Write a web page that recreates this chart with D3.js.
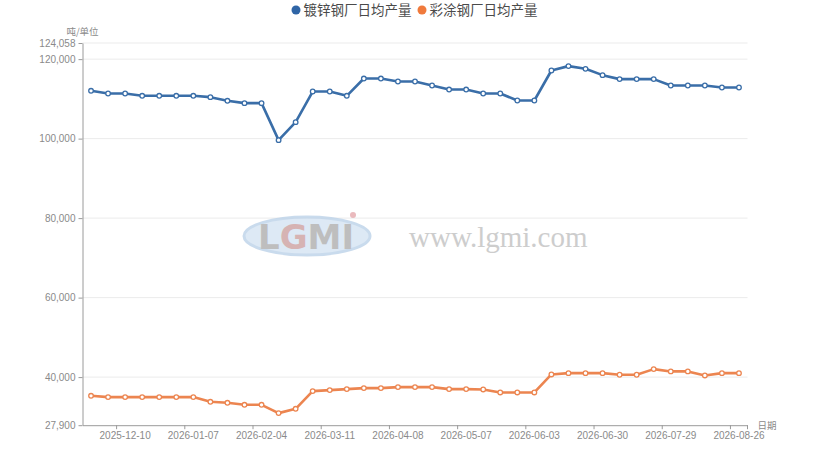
<!DOCTYPE html>
<html>
<head>
<meta charset="utf-8">
<script src="https://cdn.jsdelivr.net/npm/d3@7"></script>
<style>
    body { margin: 0; background: #fff; }
    svg { display: block; font-family: "Noto Sans CJK SC", "Noto Sans", sans-serif; }
    .tick-label { fill: #8a8a8a; font-size: 10px; }
    .axis-name { fill: #8a8a8a; font-size: 9.5px; }
    .legend-text { fill: #4a4a4a; font-size: 13.5px; }
</style>
</head>
<body>
<div id="chart"></div>
<script>
// Week labels (category axis)
const DATES = [
    "2025-11-26", "2025-12-03", "2025-12-10", "2025-12-17", "2025-12-24", "2025-12-31",
    "2026-01-07", "2026-01-14", "2026-01-21", "2026-01-28", "2026-02-04", "2026-02-11",
    "2026-02-25", "2026-03-04", "2026-03-11", "2026-03-18", "2026-03-25", "2026-04-01",
    "2026-04-08", "2026-04-15", "2026-04-22", "2026-04-29", "2026-05-07", "2026-05-13",
    "2026-05-20", "2026-05-27", "2026-06-03", "2026-06-10", "2026-06-17", "2026-06-24",
    "2026-06-30", "2026-07-08", "2026-07-15", "2026-07-22", "2026-07-29", "2026-08-05",
    "2026-08-12", "2026-08-19", "2026-08-26"
];

// 镀锌钢厂日均产量
const GALVANIZED = [
    112030, 111350, 111350, 110770, 110770, 110770, 110770, 110430, 109510, 108930,
    108930, 99620, 104150, 111850, 111850, 110770, 115120, 115120, 114370, 114370,
    113360, 112350, 112350, 111350, 111350, 109590, 109590, 117140, 118240, 117560,
    115970, 114970, 114970, 114970, 113360, 113360, 113360, 112860, 112860
];

// 彩涂钢厂日均产量
const COATED = [
    35300, 34970, 34970, 34970, 34970, 34970, 34970, 33790, 33540, 33030,
    33030, 30940, 32030, 36480, 36730, 36980, 37230, 37230, 37480, 37480,
    37480, 36980, 36980, 36900, 36140, 36140, 36140, 40670, 41000, 41000,
    41000, 40590, 40590, 42010, 41430, 41430, 40420, 41000, 41000
];

const SERIES_NAMES = ["镀锌钢厂日均产量", "彩涂钢厂日均产量"];
const Y_TICKS = [27900, 40000, 60000, 80000, 100000, 120000, 124058];
const X_LABEL_INDEX = [2, 6, 10, 14, 18, 22, 26, 30, 34, 38];

function ProductionChart(width, height) {
    const WIDTH = width;
    const HEIGHT = height;
    const MARGINS = { top: 43, right: 83.5, bottom: 46.8, left: 82.5 };
    const COLORS = ["#3a6ea8", "#ec8550"];
    const LEGEND_DOT = ["#2f65a6", "#f07a3c"];

    const xScale = d3.scaleBand()
        .domain(DATES)
        .range([MARGINS.left, WIDTH - MARGINS.right])
        .padding(0);
    const xMid = d => xScale(d) + xScale.bandwidth() / 2;

    const yScale = d3.scaleLinear()
        .domain([Y_TICKS[0], Y_TICKS[Y_TICKS.length - 1]])
        .range([HEIGHT - MARGINS.bottom, MARGINS.top]);

    this.createChart = function() {
        var svg = d3.create("svg")
            .attr("width", WIDTH)
            .attr("height", HEIGHT)
            .attr("viewBox", [0, 0, WIDTH, HEIGHT]);

        // Horizontal grid lines
        svg.append("g")
            .selectAll("line")
            .data(Y_TICKS.slice(1))
            .join("line")
            .attr("x1", MARGINS.left)
            .attr("x2", WIDTH - MARGINS.right)
            .attr("y1", d => yScale(d))
            .attr("y2", d => yScale(d))
            .style("stroke", "#ebebeb")
            .style("stroke-width", 1);

        // Watermark
        var wm = svg.append("g").attr("opacity", 0.75);
        wm.append("ellipse")
            .attr("cx", 307).attr("cy", 236)
            .attr("rx", 63).attr("ry", 19)
            .style("fill", "#d2e2f2")
            .style("stroke", "#b8cfe7")
            .style("stroke-width", 3);
        var logo = wm.append("text")
            .attr("x", 306).attr("y", 249)
            .attr("text-anchor", "middle")
            .style("font-family", "'DejaVu Sans', sans-serif")
            .style("font-weight", "bold")
            .style("font-size", "34px")
            .style("fill", "#a9a9a9");
        logo.append("tspan").text("L");
        logo.append("tspan").text("G").style("fill", "#c99a9a");
        logo.append("tspan").text("MI");
        wm.append("circle")
            .attr("cx", 353).attr("cy", 215).attr("r", 3)
            .style("fill", "#e3a3a8");
        wm.append("text")
            .attr("x", 409).attr("y", 247)
            .text("www.lgmi.com")
            .style("font-family", "'Liberation Serif', serif")
            .style("font-size", "29px")
            .style("fill", "#bdbdbd");

        // y-axis left
        var yAxis = (g) => g
            .attr("transform", `translate(${MARGINS.left},0)`)
            .call(d3.axisLeft(yScale)
                .tickValues(Y_TICKS)
                .tickFormat(d3.format(","))
                .tickSize(4)
                .tickSizeOuter(0)
                .tickPadding(3));
        svg.append("g").call(yAxis)
            .call(g => g.selectAll("path, line").style("stroke", "#9a9a9a"))
            .call(g => g.selectAll("text").attr("class", "tick-label").attr("font-family", null).attr("font-size", null));

        // x-axis bottom: labels at category centres, ticks at band edges
        var xAxis = (g) => g
            .attr("transform", `translate(0,${HEIGHT - MARGINS.bottom})`)
            .call(d3.axisBottom(xScale)
                .tickValues(X_LABEL_INDEX.map(i => DATES[i]))
                .tickSize(0)
                .tickSizeOuter(0)
                .tickPadding(7));
        svg.append("g").call(xAxis)
            .call(g => g.select(".domain").style("stroke", "#9a9a9a"))
            .call(g => g.selectAll("text").attr("class", "tick-label").attr("font-family", null).attr("font-size", null));

        svg.append("g")
            .selectAll("line")
            .data(X_LABEL_INDEX.map(i => DATES[i]).concat(["end"]))
            .join("line")
            .attr("x1", d => d === "end" ? WIDTH - MARGINS.right : xScale(d))
            .attr("x2", d => d === "end" ? WIDTH - MARGINS.right : xScale(d))
            .attr("y1", HEIGHT - MARGINS.bottom)
            .attr("y2", HEIGHT - MARGINS.bottom + 4)
            .style("stroke", "#9a9a9a");

        // Axis names
        svg.append("text")
            .attr("class", "axis-name")
            .text("吨/单位")
            .attr("x", MARGINS.left)
            .attr("y", 35)
            .attr("text-anchor", "middle");
        svg.append("text")
            .attr("class", "axis-name")
            .text("日期")
            .attr("x", WIDTH - MARGINS.right + 10)
            .attr("y", HEIGHT - MARGINS.bottom + 3.5);

        // Legend
        var legendX = [296, 422];
        SERIES_NAMES.forEach(function(name, i) {
            svg.append("circle")
                .attr("cx", legendX[i]).attr("cy", 10).attr("r", 4.5)
                .style("fill", LEGEND_DOT[i]);
            svg.append("text")
                .attr("class", "legend-text")
                .attr("x", legendX[i] + 7.5)
                .attr("y", 15)
                .text(name);
        });

        return svg;
    };

    this.drawSeries = function(svg, values, index) {
        const pts = DATES.map((d, i) => ({ date: d, value: values[i] }));
        const line = d3.line()
            .x(d => xMid(d.date))
            .y(d => yScale(d.value));

        svg.append("path")
            .datum(pts)
            .attr("d", line)
            .style("fill", "none")
            .style("stroke", COLORS[index])
            .style("stroke-width", 2.6)
            .style("stroke-linejoin", "round");

        svg.append("g")
            .selectAll("circle")
            .data(pts)
            .join("circle")
            .attr("cx", d => xMid(d.date))
            .attr("cy", d => yScale(d.value))
            .attr("r", 2.3)
            .style("fill", "#fff")
            .style("stroke", COLORS[index])
            .style("stroke-width", 1.3);
    };
}

var chart = new ProductionChart(831, 472);
var svg = chart.createChart();
chart.drawSeries(svg, GALVANIZED, 0);
chart.drawSeries(svg, COATED, 1);
document.getElementById("chart").appendChild(svg.node());
</script>
</body>
</html>
